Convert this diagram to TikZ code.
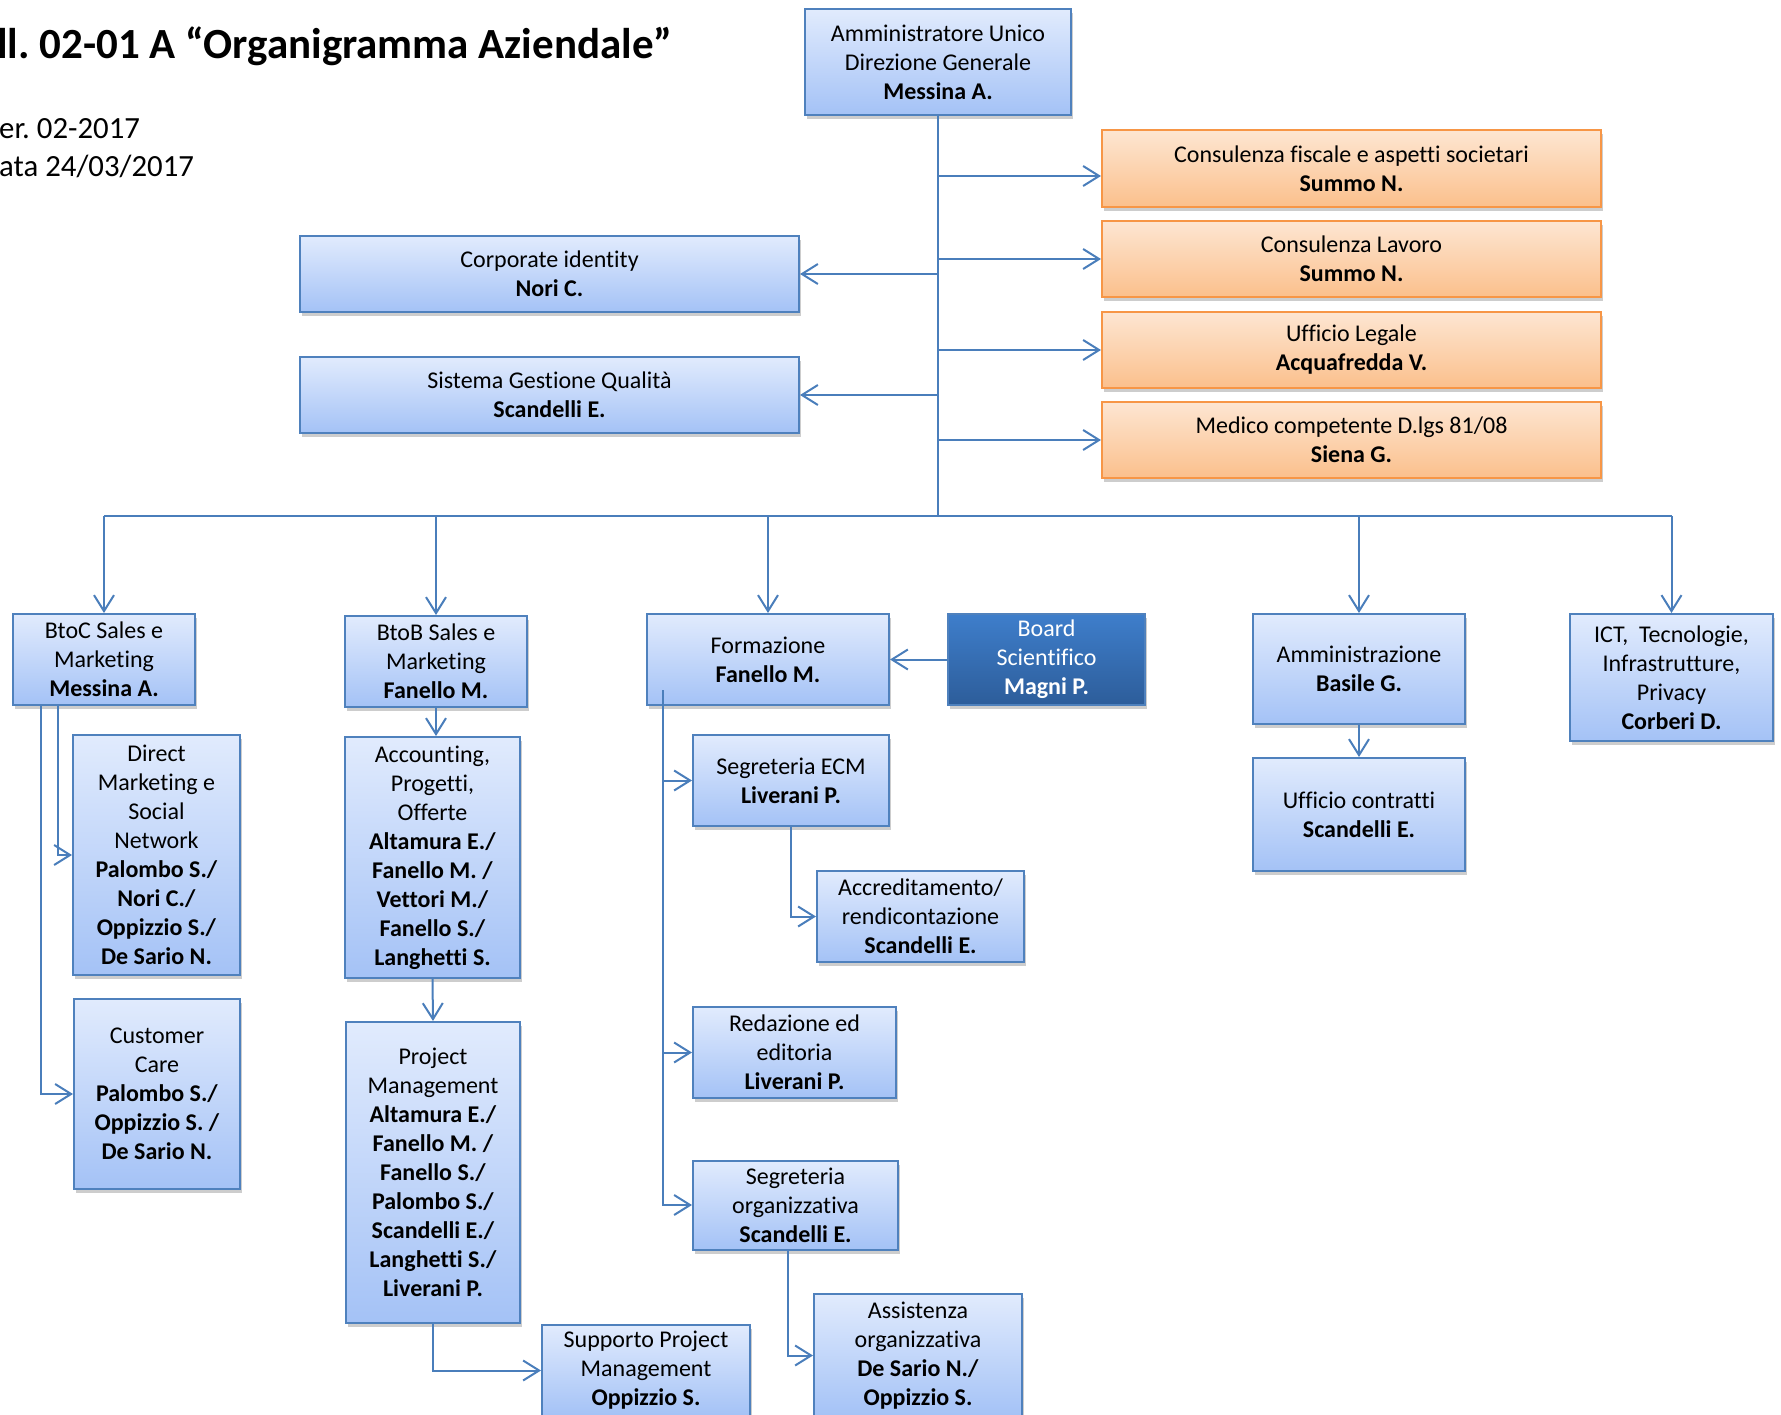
\documentclass[tikz,border=0pt]{standalone}
\usepackage{fontspec}
\setmainfont{Carlito}[Ligatures=NoCommon]
\usetikzlibrary{arrows.meta,shadows}
\definecolor{bdr}{HTML}{4F81BD}
\definecolor{btop}{HTML}{E1EBFD}
\definecolor{bbot}{HTML}{A4C2F6}
\definecolor{otop}{HTML}{FDE6D2}
\definecolor{obot}{HTML}{FBC08C}
\definecolor{obdr}{HTML}{F79646}
\definecolor{dtop}{HTML}{3E7ECB}
\definecolor{dbot}{HTML}{2D5D9A}
\definecolor{conn}{HTML}{4A7EBB}
\frenchspacing
\begin{document}
\begin{tikzpicture}[x=1pt,y=-1pt,
  box/.style={draw=bdr, line width=2pt, top color=btop, bottom color=bbot, inner sep=0pt, align=center,
    font=\fontsize{24}{29}\selectfont,
    drop shadow={shadow xshift=1.5pt, shadow yshift=-4pt, opacity=0.28, fill=black!70}},
  obox/.style={box, draw=obdr, top color=otop, bottom color=obot},
  dbox/.style={box, draw=bdr, top color=dtop, bottom color=dbot, text=white},
  arr/.style={draw=conn, line width=2pt, -{Straight Barb[length=16pt,width=20pt]}},
  ln/.style={draw=conn, line width=2pt},
  ttl/.style={anchor=base west, inner sep=0pt},
]
\useasboundingbox (0,0) rectangle (1781,1415);

% titles
\node[ttl, font=\fontsize{43}{50}\selectfont\bfseries] (title) at (-3,59) {ll. 02-01 A “Organigramma Aziendale”};
\node[ttl, font=\fontsize{30.8}{36}\selectfont] (ver) at (-1,139) {er. 02-2017};
\node[ttl, font=\fontsize{30.8}{36}\selectfont] (data) at (-1,177) {ata 24/03/2017};

% top
\node[box, minimum width=266pt, minimum height=106pt] (amm) at (938,62) {Amministratore Unico\\Direzione Generale\\\textbf{Messina A.}};

% orange
\node[obox, minimum width=499pt, minimum height=77pt] (or1) at (1351.5,168.5) {Consulenza fiscale e aspetti societari\\\textbf{Summo N.}};
\node[obox, minimum width=499pt, minimum height=76pt] (or2) at (1351.5,259) {Consulenza Lavoro\\\textbf{Summo N.}};
\node[obox, minimum width=499pt, minimum height=76pt] (or3) at (1351.5,350) {Ufficio Legale\\\textbf{Acquafredda V.}};
\node[obox, minimum width=499pt, minimum height=76pt] (or4) at (1351.5,440) {Medico competente D.lgs 81/08\\\textbf{Siena G.}};

% left staff
\node[box, minimum width=499pt, minimum height=76pt] (corp) at (549.5,274) {Corporate identity\\\textbf{Nori C.}};
\node[box, minimum width=499pt, minimum height=76pt] (sgq) at (549.5,395) {Sistema Gestione Qualità\\\textbf{Scandelli E.}};

% bottom row
\node[box, minimum width=182pt, minimum height=91pt] (btoc) at (104,659.5) {BtoC Sales e\\Marketing\\\textbf{Messina A.}};
\node[box, minimum width=167pt, minimum height=240pt] (direct) at (156.5,855) {Direct\\Marketing e\\Social\\Network\\\textbf{Palombo S./}\\\textbf{Nori C./}\\\textbf{Oppizzio S./}\\\textbf{De Sario N.}};
\node[box, minimum width=166pt, minimum height=190pt] (cust) at (157,1094) {Customer\\Care\\\textbf{Palombo S./}\\\textbf{Oppizzio S. /}\\\textbf{De Sario N.}};

\node[box, minimum width=182pt, minimum height=91pt] (btob) at (436,661.5) {BtoB Sales e\\Marketing\\\textbf{Fanello M.}};
\node[box, minimum width=175pt, minimum height=241pt] (acc) at (432.5,857.5) {Accounting,\\Progetti,\\Offerte\\\textbf{Altamura E./}\\\textbf{Fanello M. /}\\\textbf{Vettori M./}\\\textbf{Fanello S./}\\\textbf{Langhetti S.}};
\node[box, minimum width=174pt, minimum height=301pt] (pm) at (433,1172.5) {Project\\Management\\\textbf{Altamura E./}\\\textbf{Fanello M. /}\\\textbf{Fanello S./}\\\textbf{Palombo S./}\\\textbf{Scandelli E./}\\\textbf{Langhetti S./}\\\textbf{Liverani P.}};
\node[box, minimum width=208pt, minimum height=91pt] (supp) at (646,1370.5) {Supporto Project\\Management\\\textbf{Oppizzio S.}};

\node[box, minimum width=242pt, minimum height=91pt] (form) at (768,659.5) {Formazione\\\textbf{Fanello M.}};
\node[dbox, minimum width=197pt, minimum height=91pt] (board) at (1046.5,659.5) {Board\\Scientifico\\\textbf{Magni P.}};
\node[box, minimum width=196pt, minimum height=91pt] (ecm) at (791,780.5) {Segreteria ECM\\\textbf{Liverani P.}};
\node[box, minimum width=207pt, minimum height=91pt] (accr) at (920.5,916.5) {Accreditamento/\\rendicontazione\\\textbf{Scandelli E.}};
\node[box, minimum width=203pt, minimum height=91pt] (red) at (794.5,1052.5) {Redazione ed\\editoria\\\textbf{Liverani P.}};
\node[box, minimum width=205pt, minimum height=89pt] (segorg) at (795.5,1205) {Segreteria\\organizzativa\\\textbf{Scandelli E.}};
\node[box, minimum width=208pt, minimum height=123pt] (assist) at (918,1355.5) {Assistenza\\organizzativa\\\textbf{De Sario N./}\\\textbf{Oppizzio S.}};

\node[box, minimum width=212pt, minimum height=110pt] (amz) at (1359,669) {Amministrazione\\\textbf{Basile G.}};
\node[box, minimum width=212pt, minimum height=113pt] (uc) at (1359,814.5) {Ufficio contratti\\\textbf{Scandelli E.}};
\node[box, minimum width=203pt, minimum height=127pt] (ict) at (1671.5,677.5) {ICT,\ \ Tecnologie,\\Infrastrutture,\\Privacy\\\textbf{Corberi D.}};

% main trunk and bus
\coordinate (busM) at (938,516);
\coordinate (busL) at (104,516);
\coordinate (busR) at (1671.5,516);
\draw[ln] (amm.south) -- (busM);
\draw[ln] (busL) -- (busR);

% to orange
\coordinate (t1) at ([yshift=-7.5pt]or1.west);
\draw[arr] (amm.south |- t1) -- (t1);
\draw[arr] (amm.south |- or2.west) -- (or2.west);
\draw[arr] (amm.south |- or3.west) -- (or3.west);
\draw[arr] (amm.south |- or4.west) -- (or4.west);
% to left staff
\draw[arr] (amm.south |- corp.east) -- (corp.east);
\draw[arr] (amm.south |- sgq.east) -- (sgq.east);

% drops
\draw[arr] (btoc.north |- busL) -- (btoc.north);
\draw[arr] (btob.north |- busL) -- (btob.north);
\draw[arr] (form.north |- busL) -- (form.north);
\draw[arr] (amz.north |- busL) -- (amz.north);
\draw[arr] (ict.north |- busL) -- (ict.north);

% BtoC
\draw[arr] ([xshift=-46pt]btoc.south) |- (direct.west);
\draw[arr] ([xshift=-63pt]btoc.south) |- (cust.west);

% BtoB
\draw[arr] (btob.south) -- (btob.south |- acc.north);
\draw[arr] (acc.south) -- (pm.north);
\draw[arr] (pm.south) |- (supp.west);

% Formazione
\draw[arr] (board.west) -- (form.east);
\coordinate (fL) at (663,690);
\draw[arr] (fL) |- (ecm.west);
\draw[arr] (fL) |- (red.west);
\draw[arr] (fL) |- (segorg.west);
\draw[arr] (ecm.south) |- (accr.west);
\draw[arr] ([xshift=-7.5pt]segorg.south) |- (assist.west);

% Amministrazione
\draw[arr] (amz.south) -- (uc.north);
\end{tikzpicture}
\end{document}
